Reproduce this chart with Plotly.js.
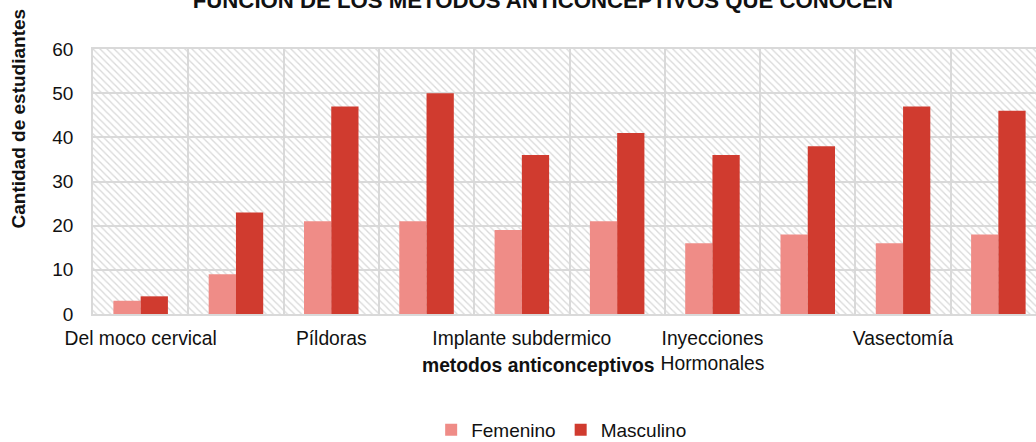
<!DOCTYPE html>
<html>
<head>
<meta charset="utf-8">
<script src="https://cdn.plot.ly/plotly-3.0.1.min.js"></script>
<style>html,body{margin:0;padding:0;background:#fff;overflow:hidden}#chart{width:1036px;height:442px}</style>
</head>
<body>
<div id="chart"></div>
<script>
const categories = ["Del moco cervical", "Del ritmo", "Píldoras", "Preservativo", "Implante subdermico", "DIU", "Inyecciones Hormonales", "Ligadura de trompas", "Vasectomía", "Anticoncepción de emergencia"];
const tickLabels = ["Del moco cervical", "", "Píldoras", "", "Implante subdermico", "", "Inyecciones<br>Hormonales", "", "Vasectomía", ""];
const femenino = [3, 9, 21, 21, 19, 21, 16, 18, 16, 18];
const masculino = [4, 23, 47, 50, 36, 41, 36, 38, 47, 46];
const seriesNames = ["Femenino", "Masculino"];
const yTicks = [0, 10, 20, 30, 40, 50, 60];
const titleText = "FUNCION DE LOS METODOS ANTICONCEPTIVOS QUE CONOCEN";
const yTitleText = "Cantidad de estudiantes";
const xTitleText = "metodos anticonceptivos";

const FONT = "Liberation Sans, Arial, sans-serif";
const yMin = yTicks[0], yMax = yTicks[yTicks.length - 1];
const barW = 0.286;

const traces = [
  {
    type: "bar", x: [categories[0]], y: [yMax - yMin], base: yMin,
    offset: -0.5, width: categories.length,
    marker: {color: "#d9d9d9", line: {width: 0}, pattern: {shape: "\\", size: 5, solidity: 0.26, fillmode: "replace"}},
    showlegend: false, hoverinfo: "skip"
  },
  {
    type: "bar", name: seriesNames[0], x: categories, y: femenino,
    offset: -barW, width: barW,
    marker: {color: "#EF8C87", line: {width: 0}}
  },
  {
    type: "bar", name: seriesNames[1], x: categories, y: masculino,
    offset: 0, width: barW,
    marker: {color: "#D03B2F", line: {width: 0}}
  }
];

const layout = {
  width: 1036, height: 442,
  margin: {l: 93, r: 0, t: 49, b: 128, pad: 0, autoexpand: false},
  paper_bgcolor: "#ffffff", plot_bgcolor: "#ffffff",
  barmode: "overlay",
  font: {family: FONT, size: 19, color: "#111"},
  title: {
    text: "<b>" + titleText + "</b>",
    font: {family: FONT, size: 22.2, color: "#111"},
    x: 0.524, xref: "container", xanchor: "center",
    y: 1.0, yref: "container", yanchor: "middle"
  },
  xaxis: {
    type: "category",
    range: [-0.5, 9.395],
    tickmode: "array", tickvals: categories, ticktext: tickLabels,
    tickson: "boundaries", ticks: "", tickangle: 0,
    showgrid: true, gridcolor: "#d9d9d9", gridwidth: 1.5,
    showline: true, linecolor: "#d9d9d9", linewidth: 1.5, mirror: true,
    tickfont: {family: FONT, size: 19.3, color: "#111"},
    ticklabelstandoff: 6,
    automargin: false,
    fixedrange: true
  },
  yaxis: {
    range: [yMin, yMax],
    tickmode: "array", tickvals: yTicks,
    showgrid: true, gridcolor: "#d9d9d9", gridwidth: 1.5,
    showline: true, linecolor: "#d9d9d9", linewidth: 1.5,
    zeroline: false, ticks: "",
    tickfont: {family: FONT, size: 19, color: "#111"},
    ticklabelstandoff: 14,
    automargin: false,
    fixedrange: true
  },
  legend: {
    orientation: "h", x: 0.497, xanchor: "center", y: -0.437, yanchor: "middle",
    font: {family: FONT, size: 19, color: "#111"},
    itemwidth: 30, traceorder: "normal", bgcolor: "rgba(0,0,0,0)"
  },
  annotations: [
    {
      text: "<b>" + yTitleText + "</b>", textangle: -90,
      xref: "paper", yref: "paper", x: -0.0785, y: 0.7377,
      xanchor: "center", yanchor: "middle", showarrow: false,
      font: {family: FONT, size: 19, color: "#111"}
    },
    {
      text: "<b>" + xTitleText + "</b>",
      xref: "paper", yref: "paper", x: 0.4719, y: -0.195,
      xanchor: "center", yanchor: "middle", showarrow: false,
      font: {family: FONT, size: 19.3, color: "#111"}
    }
  ],
  hovermode: "closest"
};

Plotly.newPlot("chart", traces, layout, {displayModeBar: false, staticPlot: false});
</script>
</body>
</html>
